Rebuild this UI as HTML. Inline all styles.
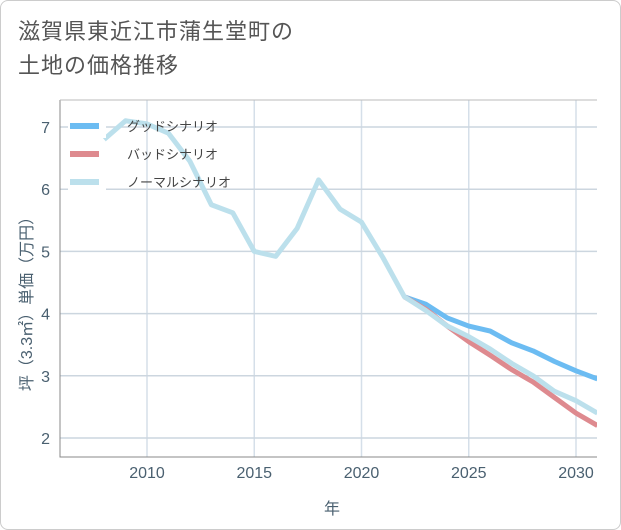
<!DOCTYPE html>
<html><head><meta charset="utf-8"><style>
body{margin:0;background:#fff;font-family:"Liberation Sans","Noto Sans CJK JP",sans-serif}
#wrap{position:relative;width:619px;height:528px;border:1px solid #ccc;border-radius:8px;overflow:hidden}
#title{position:absolute;left:17px;top:14px;font-size:22px;line-height:34px;color:#555;letter-spacing:1px}
</style></head><body>
<div id="wrap">
<div id="title">滋賀県東近江市蒲生堂町の<br>土地の価格推移</div>
<svg id="chart" width="621" height="530" style="position:absolute;left:-1px;top:-1px"></svg>
</div>
<script>
const years=[2008,2009,2010,2011,2012,2013,2014,2015,2016,2017,2018,2019,2020,2021,2022,2023,2024,2025,2026,2027,2028,2029,2030,2031];
const normal=[6.8,7.1,7.05,6.9,6.45,5.75,5.62,5.0,4.92,5.37,6.15,5.68,5.47,4.9,4.27,4.05,3.8,3.63,3.43,3.2,3.0,2.75,2.6,2.4];
const goodYears=[2022,2023,2024,2025,2026,2027,2028,2029,2030,2031];
const good=[4.27,4.15,3.93,3.8,3.72,3.53,3.4,3.23,3.08,2.95];
const bad=[4.27,4.07,3.8,3.55,3.33,3.1,2.9,2.65,2.4,2.2];
const xTicks=[2010,2015,2020,2025,2030];
const yTicks=[2,3,4,5,6,7];
const seriesNames=["グッドシナリオ","バッドシナリオ","ノーマルシナリオ"];
const NS="http://www.w3.org/2000/svg";
const svg=document.getElementById('chart');
const L=60,R=597,T=100,B=457;
const x=v=>147+(v-2010)*21.45;
const y=v=>127+(7-v)*62.2;
function mk(t,a,p){const e=document.createElementNS(NS,t);for(const k in a)e.setAttribute(k,a[k]);(p||svg).appendChild(e);return e;}
const clip=mk('clipPath',{id:'c'});mk('rect',{x:L,y:T,width:R-L,height:B-T},clip);
xTicks.forEach(t=>{const g=mk('line',{x1:x(t),x2:x(t),y1:T,y2:B,stroke:'#d5dfe9','stroke-width':1.5});

const tx=mk('text',{x:x(t),y:478,'text-anchor':'middle','font-size':16,fill:'#4a6070'});tx.textContent=t;
});
yTicks.forEach(t=>{const g=mk('line',{x1:L,x2:R,y1:y(t),y2:y(t),stroke:'#ccd6df','stroke-width':1.5});

const tx=mk('text',{x:50,y:y(t)+6,'text-anchor':'end','font-size':16,fill:'#4a6070'});tx.textContent=t;
});
const ax=mk('path',{d:`M${L} ${T}V${B}H${R}`,fill:'none',stroke:'#888','stroke-width':1});

mk('line',{x1:L,x2:R,y1:T,y2:T,stroke:'#bbb','stroke-width':1});
function line(xs,vs,col,name){const d=vs.map((v,i)=>(i?'L':'M')+x(xs[i])+' '+y(v)).join('');
const p=mk('path',{d,fill:'none',stroke:col,'stroke-width':5,'stroke-linejoin':'round','clip-path':'url(#c)'});
}
line(goodYears,good,'#6cbcf2','good-scenario-line');
line(goodYears,bad,'#de8a8f','bad-scenario-line');
line(years,normal,'#bce0ec','normal-scenario-line');
const cols=['#6cbcf2','#de8a8f','#bce0ec'];
seriesNames.forEach((n,i)=>{const yy=126+i*28;
mk('rect',{x:68,y:yy-6,width:38,height:18,fill:'#fff'});
const s=mk('line',{x1:70,x2:99,y1:yy,y2:yy,stroke:cols[i],'stroke-width':6});

const t=mk('text',{x:127,y:yy+5,'font-size':13,fill:'#444'});t.textContent=n;
});
const xt=mk('text',{x:332,y:514,'text-anchor':'middle','font-size':16,fill:'#4a6070'});xt.textContent='年';

const yt=mk('text',{x:0,y:0,'text-anchor':'middle','font-size':16,fill:'#4a6070',transform:'translate(32,300) rotate(-90)'});yt.textContent='坪（3.3㎡）単価（万円）';

</script>
</body></html>
